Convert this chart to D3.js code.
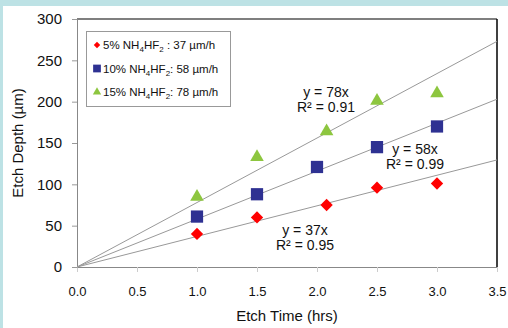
<!DOCTYPE html>
<html>
<head>
<meta charset="utf-8">
<script src="https://cdn.jsdelivr.net/npm/d3@7"></script>
<style>
  html, body { margin: 0; padding: 0; background: #bde2e5; }
  svg { display: block; }
  text { font-family: "Liberation Sans", Arial, sans-serif; fill: #111; }
</style>
</head>
<body>
<svg id="chart" width="508" height="328"></svg>
<script>
// etch depth vs time, three bath concentrations
const labels = ['5%', '10%', '15%'];
const rates = [37, 58, 78];
const rSquared = [0.95, 0.99, 0.91];
const time5 = [1.0, 1.5, 2.08, 2.5, 3.0];
const depth5 = [40, 60, 75, 96, 101];
const time10 = [1.0, 1.5, 2.0, 2.5, 3.0];
const depth10 = [61, 88, 121, 145, 170];
const time15 = [1.0, 1.5, 2.08, 2.5, 3.0];
const depth15 = [85, 133, 164, 201, 210];
const xTicks = [0, 0.5, 1.0, 1.5, 2.0, 2.5, 3.0, 3.5];
const yTicks = [0, 50, 100, 150, 200, 250, 300];

const colors = ['#ff0000', '#2e3192', '#8dc63f'];
const symbols = [d3.symbolDiamond, d3.symbolSquare, d3.symbolTriangle];
const series = [
  { t: time5, d: depth5 },
  { t: time10, d: depth10 },
  { t: time15, d: depth15 }
];

const svg = d3.select('#chart');
svg.append('rect').attr('x', 3).attr('y', 6).attr('width', 505).attr('height', 322).attr('fill', '#fff');

const x = d3.scaleLinear().domain([0, 3.5]).range([77, 497]);
const y = d3.scaleLinear().domain([0, 300]).range([267, 19]);

// frame
svg.append('line').attr('x1', x(0)).attr('x2', x(3.5)).attr('y1', y(300)).attr('y2', y(300))
  .attr('stroke', '#555').attr('stroke-width', 1.5);
svg.append('line').attr('x1', x(3.5)).attr('x2', x(3.5)).attr('y1', y(300)).attr('y2', y(0))
  .attr('stroke', '#000').attr('stroke-width', 1.5);

// axes
const yAxis = svg.append('g').attr('transform', `translate(${x(0)},0)`)
  .call(d3.axisLeft(y).tickValues(yTicks).tickSize(5).tickPadding(10).tickFormat(d3.format('d')));
yAxis.select('.domain').attr('stroke', '#888');
yAxis.selectAll('.tick line').attr('stroke', '#999');
yAxis.selectAll('.tick text').attr('font-size', 15).attr('font-family', '"Liberation Sans", Arial, sans-serif').attr('fill', '#111');

const xAxis = svg.append('g').attr('transform', `translate(0,${y(0)})`)
  .call(d3.axisBottom(x).tickValues(xTicks).tickSize(5).tickPadding(15).tickFormat(d3.format('.1f')));
xAxis.select('.domain').attr('stroke', '#888');
xAxis.selectAll('.tick line').attr('stroke', '#ccc');
xAxis.selectAll('.tick text').attr('font-size', 13).attr('font-family', '"DejaVu Sans", sans-serif').attr('fill', '#111');

// axis titles
svg.append('text').attr('x', x(1.75)).attr('y', 321).attr('text-anchor', 'middle')
  .attr('font-size', 15).text('Etch Time (hrs)');
svg.append('text').attr('transform', `translate(23,${y(150)}) rotate(-90)`).attr('text-anchor', 'middle')
  .attr('font-size', 15).text('Etch Depth (µm)');

// trend lines through origin
const line = d3.line().x(d => x(d[0])).y(d => y(d[1]));
rates.forEach(k => {
  svg.append('path').attr('d', line([[0, 0], [3.5, k * 3.5]]))
    .attr('fill', 'none').attr('stroke', '#999').attr('stroke-width', 1);
});

// markers (diamond stretched so it is as wide as tall)
const sizes = [44, 150, 80];
series.forEach((s, i) => {
  svg.append('g').selectAll('path')
    .data(s.t.map((t, j) => [t, s.d[j]]))
    .enter().append('path')
    .attr('transform', d => `translate(${x(d[0])},${y(d[1])})` + (i === 0 ? ' scale(1.73,1)' : ''))
    .attr('d', d3.symbol().type(symbols[i]).size(sizes[i]))
    .attr('fill', colors[i]);
});

// equation labels
const eqPos = [[305, 230], [415, 149], [326, 92]];
eqPos.forEach((p, i) => {
  svg.append('text').attr('x', p[0]).attr('y', p[1] + 5).attr('text-anchor', 'middle')
    .attr('font-size', 14).text(`y = ${rates[i]}x`);
  svg.append('text').attr('x', p[0]).attr('y', p[1] + 20).attr('text-anchor', 'middle')
    .attr('font-size', 14).text(`R² = ${rSquared[i].toFixed(2)}`);
});

// legend
const legend = svg.append('g');
legend.append('rect').attr('x', 86.5).attr('y', 31.5).attr('width', 144).attr('height', 75)
  .attr('fill', '#fff').attr('stroke', '#999');
const legSizes = [12, 60, 30];
labels.forEach((lab, i) => {
  const ly = 45 + i * 23.5;
  legend.append('path')
    .attr('transform', `translate(97,${ly})` + (i === 0 ? ' scale(1.73,1)' : ''))
    .attr('d', d3.symbol().type(symbols[i]).size(legSizes[i]))
    .attr('fill', colors[i]);
  const t = legend.append('text').attr('x', 103).attr('y', ly + 4).attr('font-size', 11.5);
  t.append('tspan').text(`${lab} NH`);
  t.append('tspan').attr('font-size', 8).attr('dy', 3).text('4');
  t.append('tspan').attr('dy', -3).text('HF');
  t.append('tspan').attr('font-size', 8).attr('dy', 3).text('2');
  t.append('tspan').attr('dy', -3).text((i === 0 ? ' : ' : ': ') + `${rates[i]} µm/h`);
});
</script>
</body>
</html>
